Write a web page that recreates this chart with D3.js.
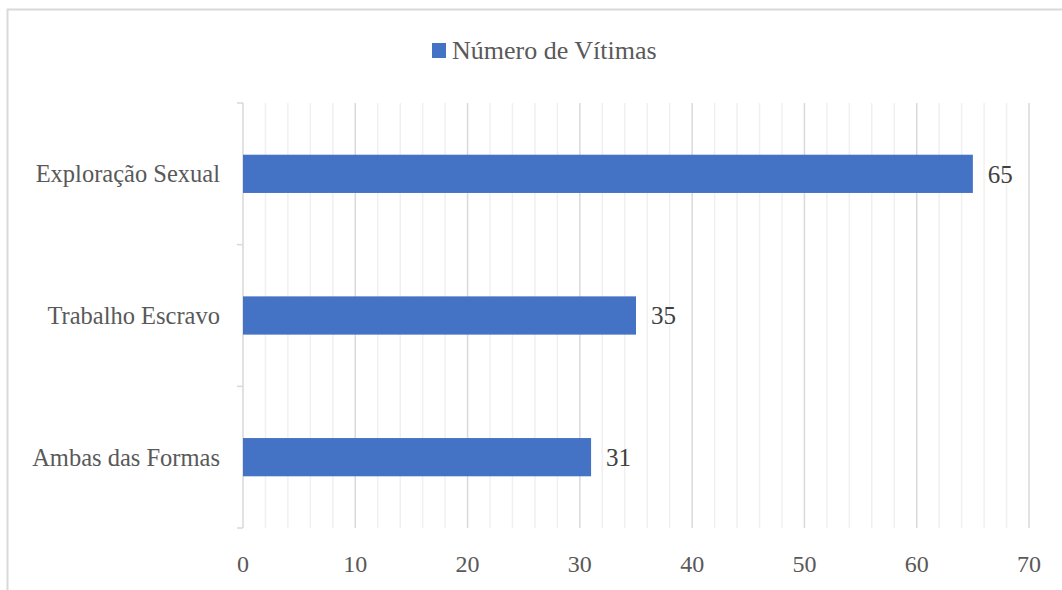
<!DOCTYPE html>
<html>
<head>
<meta charset="utf-8">
<script src="https://cdn.jsdelivr.net/npm/d3@7"></script>
<style>
  body { margin: 0; background: #fff; }
</style>
</head>
<body>
<script>
// data
var categories = ["Exploração Sexual", "Trabalho Escravo", "Ambas das Formas"];
var values = [65, 35, 31];
var seriesName = "Número de Vítimas";
var xTicks = [0, 10, 20, 30, 40, 50, 60, 70];

var width = 1062, height = 590;
var plot = { left: 243, right: 1029, top: 103, bottom: 528 };
var font = "'Liberation Serif', 'Times New Roman', serif";

var svg = d3.select("body").append("svg")
    .attr("width", width)
    .attr("height", height);

// chart border (only top and left show)
svg.append("path")
    .attr("d", "M7.5," + height + "V9.5H" + width)
    .attr("fill", "none")
    .attr("stroke", "#d9d9d9")
    .attr("stroke-width", 2);

var x = d3.scaleLinear().domain([0, 70]).range([plot.left, plot.right]);
var y = d3.scaleBand().domain(categories).range([plot.top, plot.bottom]).paddingInner(0.73).paddingOuter(0.365);

// minor grid every 2
svg.append("g").selectAll("line")
    .data(d3.range(2, 71, 2).filter(function (d) { return d % 10 != 0; }))
    .enter().append("line")
    .attr("x1", function (d) { return x(d); })
    .attr("x2", function (d) { return x(d); })
    .attr("y1", plot.top)
    .attr("y2", plot.bottom)
    .attr("stroke", "#f0f0f0")
    .attr("stroke-width", 1.5);

// major grid
svg.append("g").selectAll("line")
    .data(xTicks.slice(1))
    .enter().append("line")
    .attr("x1", function (d) { return x(d); })
    .attr("x2", function (d) { return x(d); })
    .attr("y1", plot.top)
    .attr("y2", plot.bottom)
    .attr("stroke", "#d9d9d9")
    .attr("stroke-width", 1.5);

// y axis line with ticks at band boundaries
var yLine = svg.append("g");
yLine.append("line")
    .attr("x1", plot.left).attr("x2", plot.left)
    .attr("y1", plot.top).attr("y2", plot.bottom)
    .attr("stroke", "#d9d9d9").attr("stroke-width", 1.5);
var step = (plot.bottom - plot.top) / categories.length;
yLine.selectAll(".tk")
    .data(d3.range(categories.length + 1))
    .enter().append("line")
    .attr("x1", plot.left - 6).attr("x2", plot.left)
    .attr("y1", function (i) { return plot.top + i * step; })
    .attr("y2", function (i) { return plot.top + i * step; })
    .attr("stroke", "#d9d9d9").attr("stroke-width", 1.5);

// bars
svg.append("g").selectAll("rect")
    .data(values)
    .enter().append("rect")
    .attr("x", x(0))
    .attr("y", function (d, i) { return y(categories[i]); })
    .attr("width", function (d) { return x(d) - x(0); })
    .attr("height", y.bandwidth())
    .attr("fill", "#4472c4");

// value labels
svg.append("g").selectAll("text")
    .data(values)
    .enter().append("text")
    .attr("x", function (d) { return x(d) + 15; })
    .attr("y", function (d, i) { return y(categories[i]) + y.bandwidth() / 2; })
    .attr("dy", "0.35em")
    .attr("font-size", 25)
    .style("font-family", font)
    .style("fill", "#404040")
    .text(function (d) { return d; });

// category labels
svg.append("g").selectAll("text")
    .data(categories)
    .enter().append("text")
    .attr("x", 220)
    .attr("y", function (d) { return y(d) + y.bandwidth() / 2; })
    .attr("dy", "0.35em")
    .attr("text-anchor", "end")
    .attr("font-size", 24.5)
    .style("font-family", font)
    .style("fill", "#595959")
    .text(function (d) { return d; });

// x tick labels
svg.append("g").selectAll("text")
    .data(xTicks)
    .enter().append("text")
    .attr("x", function (d) { return x(d); })
    .attr("y", 572)
    .attr("text-anchor", "middle")
    .attr("font-size", 24)
    .style("font-family", font)
    .style("fill", "#595959")
    .text(function (d) { return d; });

// legend
svg.append("rect")
    .attr("x", 432).attr("y", 43)
    .attr("width", 14).attr("height", 15)
    .attr("fill", "#4472c4");
svg.append("text")
    .attr("x", 452).attr("y", 50)
    .attr("dy", "0.35em")
    .attr("font-size", 26)
    .style("font-family", font)
    .style("fill", "#595959")
    .text(seriesName);
</script>
</body>
</html>
